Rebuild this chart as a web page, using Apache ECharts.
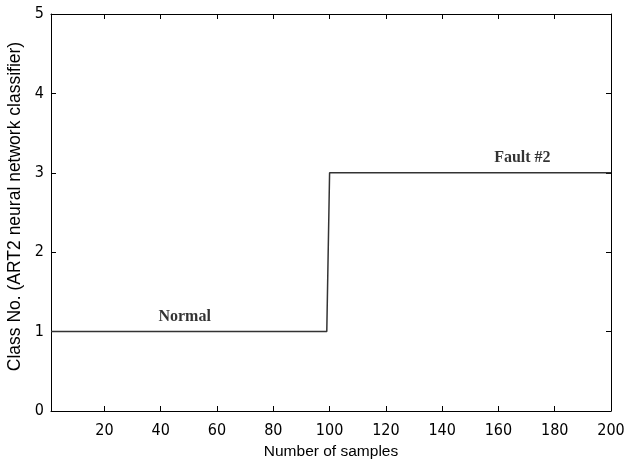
<!DOCTYPE html>
<html>
<head>
<meta charset="utf-8">
<script src="https://cdn.jsdelivr.net/npm/echarts@6/dist/echarts.min.js"></script>
<style>
html,body{margin:0;padding:0;background:#fff;}
#c{width:624px;height:463px;}
</style>
</head>
<body>
<div id="c"></div>
<script>
// Data: class output vs sample number (breakpoints of the step)
var sampleX = [1, 99, 100, 200];
var classY = [1, 1, 3, 3];
var xTicks = [20, 40, 60, 80, 100, 120, 140, 160, 180, 200];
var yTicks = [0, 1, 2, 3, 4, 5];
var annotations = [
  { name: 'Normal', x: 48.5, y: 1.18 },
  { name: 'Fault #2', x: 168.5, y: 3.19 }
];

var lineData = sampleX.map(function (x, i) { return [x, classY[i]]; });

var chart = echarts.init(document.getElementById('c'), null, { renderer: 'canvas' });

var narrow = "'Liberation Sans Narrow', 'DejaVu Sans Condensed', 'Arial Narrow', 'Liberation Sans', sans-serif";
var tickFont = { color: '#000', fontFamily: narrow, fontSize: 16 };

var baseX = {
  type: 'value', min: 1, max: 200,
  axisLine: { show: true, onZero: false, lineStyle: { color: '#000', width: 1 } },
  axisTick: { show: true, inside: true, length: 5, customValues: xTicks, lineStyle: { color: '#000' } },
  splitLine: { show: false }
};
var baseY = {
  type: 'value', min: 0, max: 5, interval: 1,
  axisLine: { show: true, onZero: false, lineStyle: { color: '#000', width: 1 } },
  axisTick: { show: true, inside: true, length: 5, customValues: yTicks, lineStyle: { color: '#000' } },
  splitLine: { show: false }
};

chart.setOption({
  animation: false,
  backgroundColor: '#fff',
  grid: { left: 51, right: 13, top: 14, bottom: 52, containLabel: false, outerBoundsMode: 'none' },
  xAxis: [
    Object.assign({}, baseX, {
      position: 'bottom',
      name: 'Number of samples',
      nameLocation: 'middle',
      nameGap: 33,
      nameTextStyle: { color: '#000', fontFamily: "'Liberation Sans', Arial, sans-serif", fontSize: 15.5 },
      axisLabel: Object.assign({ show: true, margin: 12, customValues: xTicks }, tickFont)
    }),
    Object.assign({}, baseX, {
      position: 'top',
      axisLabel: { show: false }
    })
  ],
  yAxis: [
    Object.assign({}, baseY, {
      position: 'left',
      name: 'Class No. (ART2 neural network classifier)',
      nameLocation: 'middle',
      nameGap: 25,
      nameTextStyle: { color: '#000', fontFamily: "'Liberation Sans', Arial, sans-serif", fontSize: 17.5, padding: [0, 0, 0, 12] },
      axisLabel: Object.assign({ show: true, margin: 7, customValues: yTicks }, tickFont)
    }),
    Object.assign({}, baseY, {
      position: 'right',
      axisLabel: { show: false }
    })
  ],
  series: [
    {
      type: 'line',
      data: lineData,
      showSymbol: false,
      symbol: 'none',
      lineStyle: { color: '#333', width: 1.5 },
      xAxisIndex: 0, yAxisIndex: 0,
      silent: true
    },
    {
      type: 'scatter',
      data: annotations.map(function (a) { return { name: a.name, value: [a.x, a.y] }; }),
      symbolSize: 0,
      xAxisIndex: 0, yAxisIndex: 0,
      silent: true,
      label: {
        show: true,
        position: 'inside',
        formatter: function (p) { return p.name; },
        fontFamily: "'Liberation Serif', 'Times New Roman', serif",
        fontWeight: 'bold',
        fontSize: 16,
        color: '#000'
      }
    }
  ]
});
</script>
</body>
</html>
